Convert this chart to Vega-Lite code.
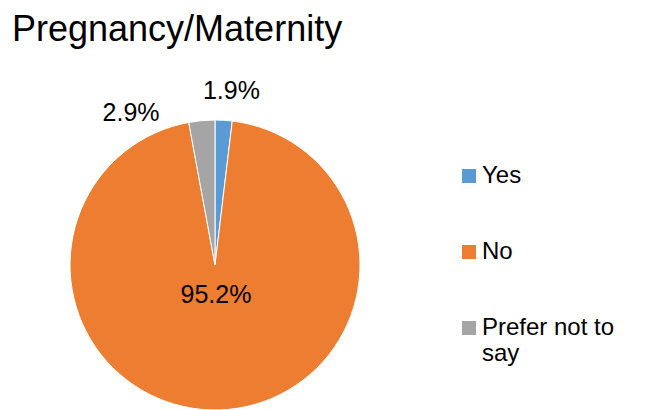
{
  "$schema": "https://vega.github.io/schema/vega-lite/v6.json",
  "width": 290,
  "height": 290,
  "autosize": {"type": "none"},
  "padding": {"left": 70, "top": 120, "right": 286, "bottom": 0},
  "background": "white",
  "title": {
    "text": "Pregnancy/Maternity",
    "anchor": "start",
    "frame": "group",
    "dx": -58,
    "offset": 30,
    "fontSize": 36,
    "font": "Liberation Sans",
    "fontWeight": "normal",
    "color": "#000000"
  },
  "data": {
    "values": [
      {"category": "Yes", "value": 1.9, "label": "1.9%"},
      {"category": "No", "value": 95.2, "label": "95.2%"},
      {"category": "Prefer not to say", "value": 2.9, "label": "2.9%"}
    ]
  },
  "transform": [{"window": [{"op": "row_number", "as": "idx"}]}],
  "encoding": {
    "theta": {"field": "value", "type": "quantitative", "stack": true},
    "order": {"field": "idx", "type": "quantitative"}
  },
  "layer": [
    {
      "mark": {"type": "arc", "outerRadius": 145, "stroke": "white", "strokeWidth": 1},
      "encoding": {
        "color": {
          "field": "category",
          "type": "nominal",
          "sort": ["Yes", "No", "Prefer not to say"],
          "scale": {
            "domain": ["Yes", "No", "Prefer not to say"],
            "range": ["#5B9BD5", "#ED7D31", "#A5A5A5"]
          },
          "legend": {
            "orient": "none",
            "legendX": 387,
            "legendY": 44,
            "title": null,
            "padding": 0,
            "symbolType": "square",
            "symbolSize": 196,
            "symbolStrokeWidth": 0,
            "labelFontSize": 24,
            "labelFont": "Liberation Sans",
            "labelColor": "#000000",
            "labelOffset": 1,
            "labelLimit": 300,
            "labelBaseline": "middle",
            "rowPadding": 52,
            "labelExpr": "datum.label == 'Prefer not to say' ? ['Prefer not to', 'say'] : datum.label"
          }
        }
      }
    },
    {
      "mark": {"type": "text", "radius": 30, "fontSize": 25, "font": "Liberation Sans", "color": "#000000"},
      "encoding": {
        "text": {"condition": {"test": "datum.category === 'No'", "field": "label", "type": "nominal"}, "value": ""}
      }
    },
    {
      "mark": {"type": "text", "radius": 174, "dx": 6, "fontSize": 25, "font": "Liberation Sans", "color": "#000000"},
      "encoding": {
        "text": {"condition": {"test": "datum.category === 'Yes'", "field": "label", "type": "nominal"}, "value": ""}
      }
    },
    {
      "mark": {"type": "text", "radius": 153, "dx": -70, "fontSize": 25, "font": "Liberation Sans", "color": "#000000"},
      "encoding": {
        "text": {"condition": {"test": "datum.category === 'Prefer not to say'", "field": "label", "type": "nominal"}, "value": ""}
      }
    }
  ],
  "config": {"view": {"stroke": null}}
}
